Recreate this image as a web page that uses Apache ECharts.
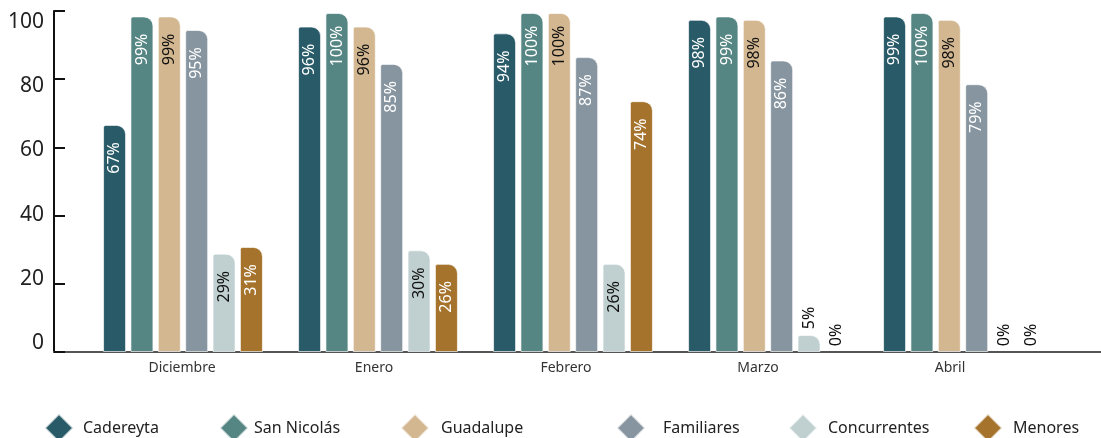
<!DOCTYPE html>
<html>
<head>
<meta charset="utf-8">
<script src="https://cdn.jsdelivr.net/npm/echarts@6/dist/echarts.min.js"></script>
<style>
html,body{margin:0;padding:0;background:#fff;}
#c{width:1101px;height:438px;}
</style>
</head>
<body>
<div id="c"></div>
<script>
// ---- data ----
const months = ['Diciembre', 'Enero', 'Febrero', 'Marzo', 'Abril'];
const seriesNames = ['Cadereyta', 'San Nicolás', 'Guadalupe', 'Familiares', 'Concurrentes', 'Menores'];
const cadereyta    = [67, 96, 94, 98, 99];
const sanNicolas   = [99, 100, 100, 99, 100];
const guadalupe    = [99, 96, 100, 98, 98];
const familiares   = [95, 85, 87, 86, 79];
const concurrentes = [29, 30, 26, 5, 0];
const menores      = [31, 26, 74, 0, 0];
const yTickLabels  = [0, 20, 40, 60, 80, 100];

// ---- styles ----
const colors = ['#285a68', '#558683', '#d3b791', '#8795a0', '#c0cfcf', '#a5732c'];
const labelColors = ['#ffffff', '#ffffff', '#111111', '#ffffff', '#111111', '#ffffff'];
const allValues = [cadereyta, sanNicolas, guadalupe, familiares, concurrentes, menores];
const FONT = 'Noto Sans';

const series = seriesNames.map((name, i) => ({
  name: name,
  type: 'bar',
  xAxisIndex: 1,
  yAxisIndex: 2,
  barWidth: 23,
  barGap: '19%',
  itemStyle: {
    color: colors[i],
    borderColor: 'rgba(255,255,255,0.65)',
    borderWidth: 1,
    borderRadius: [2, 9, 0, 0]
  },
  label: {
    show: true,
    position: 'insideTop',
    distance: 33,
    rotate: 90,
    align: 'center',
    verticalAlign: 'middle',
    color: labelColors[i],
    fontFamily: FONT,
    fontSize: 16,
    formatter: p => p.value + '%'
  },
  data: allValues[i].map(v => v < 10 ? {
    value: v,
    itemStyle: v === 0 ? { borderWidth: 0, opacity: 0 } : {},
    label: { position: 'top', distance: 17, color: '#111111', opacity: 1 }
  } : v)
}));

const legendPos = [
  { left: 39, pad: 5 },
  { left: 214, pad: 1 },
  { left: 395, pad: 7 },
  { left: 611, pad: 13 },
  { left: 783, pad: 6 },
  { left: 968, pad: 6 }
];
const legends = seriesNames.map((name, i) => ({
  data: [name],
  left: legendPos[i].left,
  top: 408,
  icon: 'diamond',
  itemWidth: 28,
  itemHeight: 28,
  selectedMode: false,
  textStyle: {
    fontFamily: FONT,
    fontSize: 16,
    color: '#222',
    padding: [0, 0, 0, legendPos[i].pad]
  }
}));

const option = {
  animation: false,
  backgroundColor: '#ffffff',
  legend: legends,
  grid: [
    { left: 54, right: 0, top: 11, bottom: 86 },          // axes frame
    { left: 85.5, width: 975, top: 11, bottom: 86 },      // bars
    { left: 86, width: 960, top: 11, bottom: 86 }         // category labels
  ],
  xAxis: [
    { type: 'value', gridIndex: 0, min: 0, max: 1,
      axisLine: { show: true, lineStyle: { color: '#555', width: 2 } },
      axisTick: { show: false }, axisLabel: { show: false }, splitLine: { show: false } },
    { type: 'category', gridIndex: 1, data: months, show: false },
    { type: 'category', gridIndex: 2, data: months,
      axisLine: { show: false }, axisTick: { show: false }, splitLine: { show: false },
      axisLabel: { margin: 9, fontFamily: FONT, fontSize: 14, color: '#333' } }
  ],
  yAxis: [
    { type: 'value', gridIndex: 0, min: 0, max: 100, interval: 20,
      axisLine: { show: true, lineStyle: { color: '#111', width: 2 } },
      axisTick: { show: true, inside: true, length: 11, lineStyle: { color: '#111', width: 2 } },
      axisLabel: { show: false }, splitLine: { show: false } },
    { type: 'value', gridIndex: 0, position: 'left', min: -2.8, max: 103.4, splitNumber: 5,
      axisLine: { show: false }, axisTick: { show: false }, splitLine: { show: false },
      axisLabel: { margin: 10, fontFamily: FONT, fontSize: 21, color: '#222',
        formatter: v => yTickLabels.indexOf(Math.round(v * 1000) / 1000) >= 0 ? String(v) : '' } },
    { type: 'value', gridIndex: 1, min: 0, max: 100.6, show: false },
    { type: 'value', gridIndex: 2, min: 0, max: 1, show: false }
  ],
  series: series
};

const chart = echarts.init(document.getElementById('c'), null, { renderer: 'canvas' });
chart.setOption(option);
</script>
</body>
</html>
